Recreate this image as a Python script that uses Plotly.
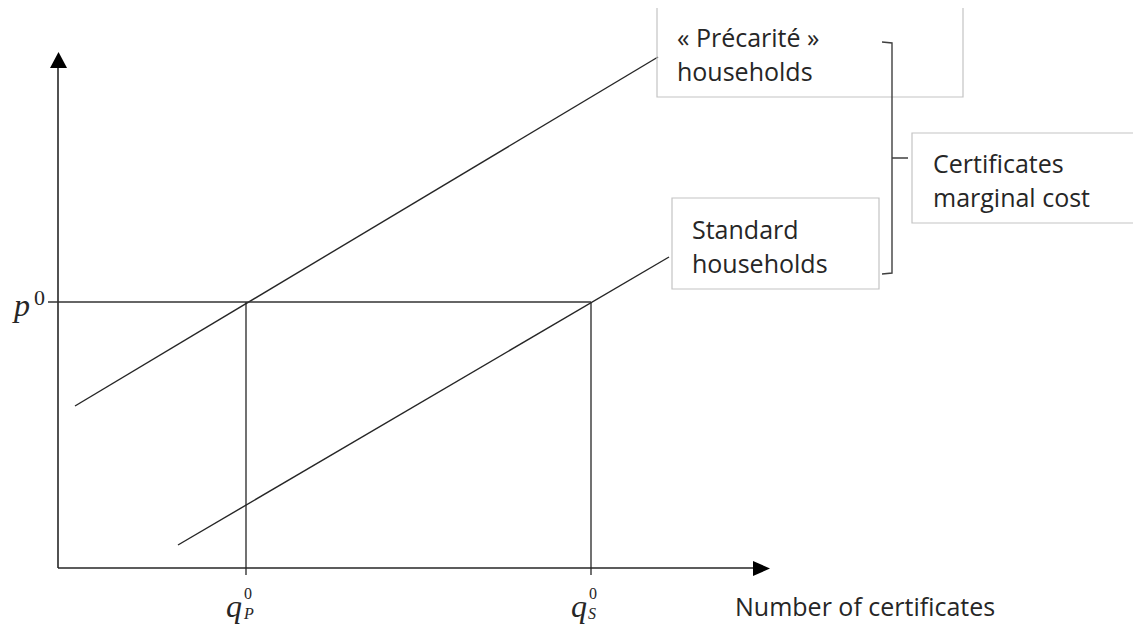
import plotly.graph_objects as go

# economic diagram values (1 unit = 10 px on screen)
precarite_q = [1.7, 60.0]
precarite_p = [16.2, 51.1]
standard_q = [12.0, 61.1]
standard_p = [2.3, 31.1]
q_P0 = 18.8
q_S0 = 53.3
p0 = 26.6
axis_q_max = 69.5
axis_p_max = 50.0

# page has an 8px body margin, so the figure starts at (8, 8)
PAD = 8
W, H = 1141 - PAD, 624 - PAD
OX, OY = 58, 568


def X(px):
    return (px - OX) / 10


def Y(py):
    return (OY - py) / 10


INK = "#262626"
BOX = "#c3c3c3"
TXT = "#262626"
SANS = "Open Sans"
MATH = "Liberation Serif"

fig = go.Figure()


def seg(xs, ys, width=1.4, color=INK):
    fig.add_trace(go.Scatter(x=xs, y=ys, mode="lines", showlegend=False,
                             hoverinfo="skip", line=dict(color=color, width=width)))


# axes
seg([0, 0], [0, axis_p_max], 1.6)
seg([0, axis_q_max], [0, 0], 1.6)
# supply curves
seg(precarite_q, precarite_p)
seg(standard_q, standard_p)
# equilibrium guides
seg([X(48), q_S0], [p0, p0], 1.3, "#333333")
seg([q_P0, q_P0], [Y(575), p0], 1.3)
seg([q_S0, q_S0], [Y(575), p0], 1.3)

shapes = []
# arrowheads
shapes.append(dict(type="path", xref="x", yref="y", line=dict(width=0), fillcolor="#000",
                   path=f"M {X(50)},{Y(68)} L {X(67)},{Y(68)} L {X(58.5)},{Y(52)} Z"))
shapes.append(dict(type="path", xref="x", yref="y", line=dict(width=0), fillcolor="#000",
                   path=f"M {X(753)},{Y(561)} L {X(753)},{Y(576)} L {X(770)},{Y(568.5)} Z"))
# label boxes (open where cropped)
shapes.append(dict(type="path", xref="x", yref="y", line=dict(color=BOX, width=1.2),
                   path=f"M {X(657)},{Y(8)} L {X(657)},{Y(97)} L {X(963)},{Y(97)} L {X(963)},{Y(8)}"))
shapes.append(dict(type="rect", xref="x", yref="y", line=dict(color=BOX, width=1.2),
                   x0=X(672), x1=X(879), y0=Y(198), y1=Y(289)))
shapes.append(dict(type="path", xref="x", yref="y", line=dict(color=BOX, width=1.2),
                   path=f"M {X(1145)},{Y(133)} L {X(912)},{Y(133)} L {X(912)},{Y(223)} L {X(1145)},{Y(223)}"))
# brace
shapes.append(dict(type="path", xref="x", yref="y", line=dict(color="#404040", width=1.4),
                   path=f"M {X(882)},{Y(42)} L {X(892)},{Y(43)} L {X(892)},{Y(273)} L {X(882)},{Y(274)}"
                        f" M {X(892)},{Y(158)} L {X(908)},{Y(158)}"))

ann = []


def text(px, py, s, size=25, font=SANS, xanchor="left", color=TXT):
    ann.append(dict(x=X(px), y=Y(py), xref="x", yref="y", text=s, showarrow=False,
                    xanchor=xanchor, yanchor="middle",
                    font=dict(family=font, size=size, color=color)))


text(675, 37, "« Précarité »")
text(675, 71, "households")
text(690, 229, "Standard")
text(690, 263, "households")
text(931, 163, "Certificates")
text(931, 197, "marginal cost")
text(733, 606, "Number of certificates")

# math labels
text(10, 305, "<i>p</i>", size=32, font=MATH)
text(32, 297, "0", size=22, font=MATH)
text(224, 606, "<i>q</i>", size=32, font=MATH)
text(242, 593, "0", size=16, font=MATH)
text(241, 613, "<i>P</i>", size=16, font=MATH)
text(569, 606, "<i>q</i>", size=32, font=MATH)
text(587, 593, "0", size=16, font=MATH)
text(586, 613, "<i>S</i>", size=16, font=MATH)

fig.update_layout(
    width=W, height=H, margin=dict(l=0, r=0, t=0, b=0),
    paper_bgcolor="white", plot_bgcolor="white",
    xaxis=dict(range=[X(PAD), X(PAD + W)], visible=False, fixedrange=True),
    yaxis=dict(range=[Y(PAD + H), Y(PAD)], visible=False, fixedrange=True),
    shapes=shapes, annotations=ann, showlegend=False,
)

fig.write_html("out.html")
